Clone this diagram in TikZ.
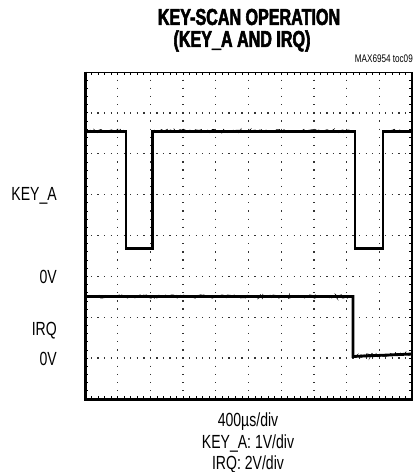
\documentclass[tikz,border=0pt]{standalone}
\usepackage{fontspec}
\setmainfont{Liberation Sans}[FakeStretch=0.74]
\newfontfamily\titlefont{Liberation Sans Bold}[FakeStretch=0.7,FakeBold=2.4]
\usetikzlibrary{decorations.pathmorphing}
\begin{document}
\begin{tikzpicture}[x=1pt,y=-1pt,
  lbl/.style={font=\fontsize{19}{21}\selectfont, inner sep=0pt},
  ttl/.style={font=\titlefont\fontsize{23}{25}\selectfont, inner sep=0pt},
  gridv/.style={line width=1.3pt, black!80, dash pattern=on 1.3pt off 6.875pt, dash phase=0.65pt},
  gridh/.style={line width=1.3pt, black!80, dash pattern=on 1.3pt off 5.24pt, dash phase=0.65pt},
  tick/.style={line width=0.8pt, black},
  trace/.style={line width=2.8pt, black, line join=miter},
  noise/.style={line width=0.9pt, black, decorate, decoration={random steps, segment length=1.5pt, amplitude=1.6pt}}]
\useasboundingbox (0,0) rectangle (416,472);
\def\xl{85}\def\xr{412}\def\yt{72}\def\yb{399}
% grid
\foreach \i in {1,...,9} {
  \draw[gridv] ({\xl+\i*32.7},\yt) -- ({\xl+\i*32.7},\yb);
}
\foreach \j in {1,...,7} {
  \draw[gridh] (\xl,{\yt+\j*40.875}) -- (\xr,{\yt+\j*40.875});
}
% frame ticks
\foreach \k in {1,...,49} {
  \draw[tick] ({\xl+\k*6.54},\yt) -- ({\xl+\k*6.54},\yt+3);
  \draw[tick] ({\xl+\k*6.54},\yb) -- ({\xl+\k*6.54},\yb-3);
}
\foreach \k in {1,...,39} {
  \draw[tick] (\xl,{\yt+\k*8.175}) -- (\xl+3,{\yt+\k*8.175});
  \draw[tick] (\xr,{\yt+\k*8.175}) -- (\xr-3,{\yt+\k*8.175});
}
% frame
\draw[line width=1pt] (\xl,\yt) -- (\xr,\yt);
\draw[line width=2pt] (\xr,\yt) -- (\xr,\yb);
\draw[line width=3pt] (\xl,\yt-0.5) -- (\xl,\yb) -- (\xr+1,\yb);
% KEY_A trace
\draw[trace] (\xl,131.5) -- (126,131.5) -- (126,248.5) -- (152.5,248.5) -- (152.5,131.5)
  -- (355,131.5) -- (355,248.5) -- (383,248.5) -- (383,131.5) -- (\xr,131.5);
\draw[noise] (\xl,131) -- (126,131);
\draw[noise] (152.5,131) -- (355,131);
\draw[noise] (383,131) -- (\xr,131);
% IRQ trace
\draw[trace] (\xl,296.5) -- (353,296.5) -- (353,356.5) -- (\xr,354);
\draw[noise] (\xl,296.5) -- (353,296.5);
\draw[noise] (353,356) -- (\xr,353.5);
% labels
\node[lbl, anchor=east] (keya) at (57,196) {KEY\_A};
\node[lbl, anchor=east] (zeroa) at (57,277) {0V};
\node[lbl, anchor=east] (irq) at (57,331) {IRQ};
\node[lbl, anchor=east] (zerob) at (57,359) {0V};
% title
\node[ttl] (t1) at (249,17) {KEY-SCAN OPERATION};
\node[ttl] (t2) at (242,41) {(KEY\_A AND IRQ)};
\node[font=\fontsize{11}{13}\selectfont, inner sep=0pt, anchor=east] (toc) at (413,59) {MAX6954 toc09};
% bottom text
\node[lbl] (b1) at (248,422) {400µs/div};
\node[lbl] (b2) at (248,443) {KEY\_A: 1V/div};
\node[lbl] (b3) at (248,464) {IRQ: 2V/div};
\end{tikzpicture}
\end{document}
